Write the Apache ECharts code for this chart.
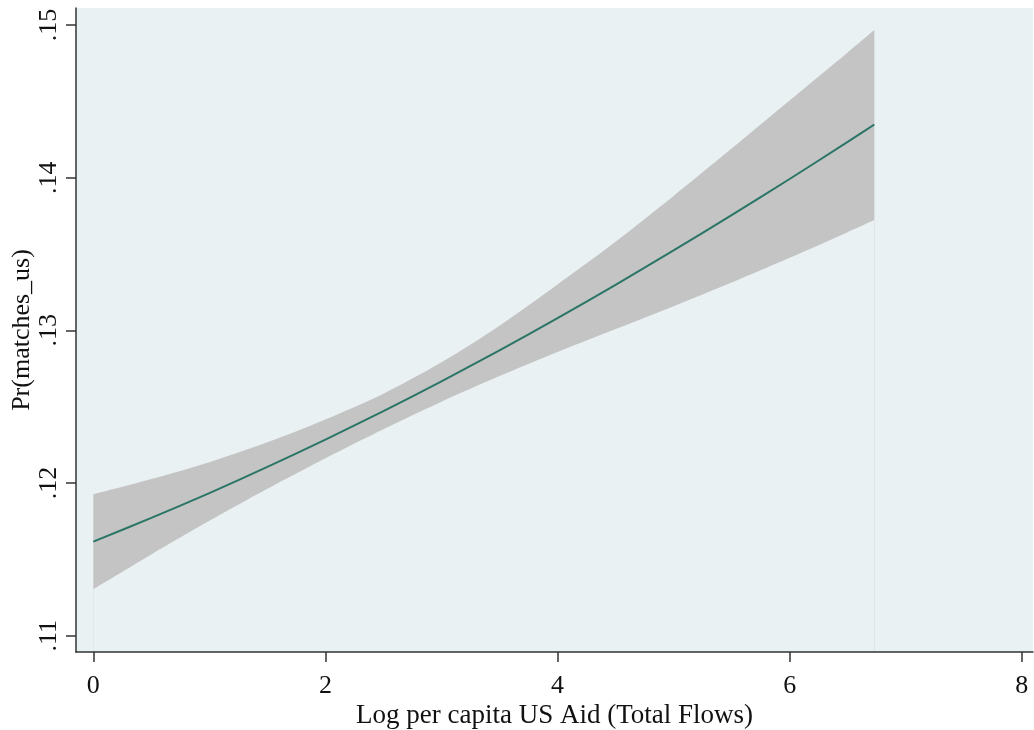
<!DOCTYPE html>
<html>
<head>
<meta charset="utf-8">
<script src="https://cdn.jsdelivr.net/npm/echarts@6/dist/echarts.min.js"></script>
<style>
  html, body { margin: 0; padding: 0; background: #ffffff; }
  #chart { width: 1034px; height: 730px; }
</style>
</head>
<body>
<div id="chart"></div>
<script>
// Data
const xValues   = [0, 0.5, 1, 1.5, 2, 2.5, 3, 3.5, 4, 4.5, 5, 5.5, 6, 6.5, 6.73];
const predicted = [0.11616, 0.11771, 0.11934, 0.12105, 0.12284, 0.12471, 0.12666, 0.12869, 0.13080, 0.13298, 0.13523, 0.13754, 0.13991, 0.14234, 0.14348];
const upperCI   = [0.11926, 0.12026, 0.12136, 0.12266, 0.12416, 0.12585, 0.12790, 0.13030, 0.13300, 0.13580, 0.13880, 0.14190, 0.14505, 0.14820, 0.14967];
const lowerCI   = [0.11304, 0.11532, 0.11752, 0.11962, 0.12162, 0.12352, 0.12532, 0.12700, 0.12858, 0.13008, 0.13158, 0.13313, 0.13475, 0.13643, 0.13722];
const xTicks = [0, 2, 4, 6, 8];
const yTicks = [0.11, 0.12, 0.13, 0.14, 0.15];
const xTitle = 'Log per capita US Aid (Total Flows)';
const yTitle = 'Pr(matches_us)';

const font = '"Liberation Serif", "Times New Roman", serif';
const plotBg = '#e9f1f3';
const chart = echarts.init(document.getElementById('chart'), null, { renderer: 'canvas' });

const upperData = xValues.map((x, i) => [x, upperCI[i]]);
const lowerData = xValues.map((x, i) => [x, lowerCI[i]]);
const lineData  = xValues.map((x, i) => [x, predicted[i]]);

chart.setOption({
  animation: false,
  backgroundColor: '#ffffff',
  grid: {
    left: 76, top: 8, right: 1, bottom: 78,
    outerBoundsMode: 'none', containLabel: false,
    show: true, backgroundColor: plotBg, borderWidth: 0
  },
  xAxis: {
    type: 'value',
    z: 10,
    min: -0.149, max: 8.097,
    name: xTitle,
    nameLocation: 'middle',
    nameGap: 50,
    nameMoveOverlap: false,
    nameTextStyle: { fontFamily: font, fontSize: 27, color: '#111' },
    axisLine: { show: true, onZero: false, lineStyle: { color: '#333', width: 1.5 } },
    axisTick: { show: true, customValues: xTicks, length: 10, lineStyle: { color: '#333', width: 1.5 } },
    axisLabel: {
      customValues: xTicks, margin: 21,
      fontFamily: font, fontSize: 26, color: '#111',
      formatter: v => String(v)
    },
    splitLine: { show: false }
  },
  yAxis: {
    type: 'value',
    z: 10,
    min: 0.10893, max: 0.15111,
    name: yTitle,
    nameLocation: 'middle',
    nameGap: 41,
    nameRotate: 90,
    nameMoveOverlap: false,
    nameTextStyle: { fontFamily: font, fontSize: 26, color: '#111' },
    axisLine: { show: true, onZero: false, lineStyle: { color: '#333', width: 1.5 } },
    axisTick: { show: true, customValues: yTicks, length: 10, lineStyle: { color: '#333', width: 1.5 } },
    axisLabel: {
      customValues: yTicks, margin: 14, rotate: 90,
      fontFamily: font, fontSize: 26, color: '#111',
      formatter: v => '.' + Math.round(v * 100)
    },
    splitLine: { show: false }
  },
  series: [
    {
      type: 'line', name: 'upper', data: upperData,
      symbol: 'none', smooth: 0.3,
      lineStyle: { opacity: 0 },
      areaStyle: { color: '#c4c4c4', opacity: 1, origin: 'start' },
      silent: true, z: 2
    },
    {
      type: 'line', name: 'lower', data: lowerData,
      symbol: 'none', smooth: 0.3,
      lineStyle: { opacity: 0 },
      areaStyle: { color: plotBg, opacity: 1, origin: 'start' },
      silent: true, z: 3
    },
    {
      type: 'line', name: 'predicted', data: lineData,
      symbol: 'none', smooth: 0.3,
      lineStyle: { color: '#2a7566', width: 2 }, z: 5
    }
  ]
});
</script>
</body>
</html>
